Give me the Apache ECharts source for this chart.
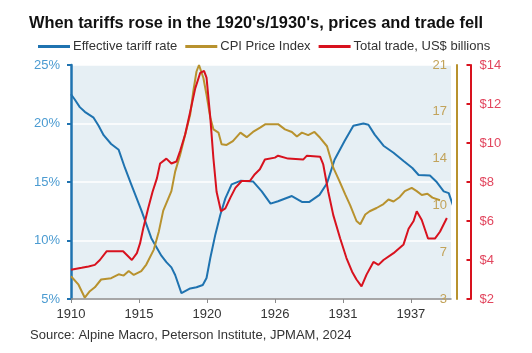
<!DOCTYPE html>
<html>
<head>
<meta charset="utf-8">
<script src="https://cdn.jsdelivr.net/npm/echarts@6/dist/echarts.min.js"></script>
<style>
  html, body { margin: 0; padding: 0; background: #fff; }
  #chart { width: 532px; height: 353px; }
</style>
</head>
<body>
<div id="chart"></div>
<script>
// values (year, value)
const baseYear = 1910
const xTickStep = 65 / 12 // ticks every 65 months
const xTickLabels = ['1910', '1915', '1920', '1926', '1931', '1937']
const cpiTickLabels = ['3', '7', '10', '14', '17', '21']

const tariffYears = [1910.0, 1910.3, 1910.7, 1911.1, 1911.8, 1912.2, 1912.6, 1913.2, 1913.8, 1914.3, 1914.8, 1915.6, 1916.4, 1916.8, 1917.2, 1917.6, 1918.0, 1918.3, 1918.8, 1919.5, 1920.0, 1920.5, 1920.8, 1921.1, 1921.5, 1921.9, 1922.3, 1922.8, 1923.5, 1924.5, 1925.2, 1925.9, 1926.5, 1927.6, 1928.4, 1929.0, 1929.8, 1930.4, 1931.0, 1931.8, 1932.5, 1933.3, 1933.7, 1934.2, 1934.9, 1935.7, 1936.5, 1937.2, 1937.7, 1938.6, 1939.1, 1939.7, 1940.1, 1940.5]
const tariffRate = [22.5, 22.05, 21.4, 21.0, 20.5, 19.8, 19.0, 18.25, 17.75, 16.2, 14.8, 12.6, 10.2, 9.45, 8.7, 8.15, 7.7, 7.05, 5.5, 5.9, 6.0, 6.2, 6.8, 8.5, 10.5, 12.2, 13.6, 14.8, 15.1, 15.05, 14.2, 13.15, 13.35, 13.8, 13.3, 13.3, 13.9, 14.9, 16.9, 18.5, 19.8, 20.0, 19.9, 19.05, 18.1, 17.5, 16.8, 16.2, 15.6, 15.55, 15.05, 14.2, 14.05, 12.8]

const cpiYears = [1910.0, 1910.6, 1911.1, 1911.5, 1911.9, 1912.4, 1913.2, 1913.8, 1914.2, 1914.6, 1915.0, 1915.6, 1916.0, 1916.6, 1917.0, 1917.35, 1918.0, 1918.3, 1918.7, 1919.1, 1919.5, 1919.75, 1920.0, 1920.2, 1920.55, 1920.8, 1921.1, 1921.35, 1921.75, 1922.0, 1922.4, 1922.9, 1923.5, 1924.0, 1924.5, 1925.1, 1925.5, 1926.5, 1927.05, 1927.6, 1928.0, 1928.4, 1928.9, 1929.4, 1929.85, 1930.4, 1930.9, 1931.4, 1931.85, 1932.25, 1932.75, 1933.05, 1933.45, 1933.8, 1934.35, 1934.9, 1935.3, 1935.7, 1936.2, 1936.6, 1937.15, 1937.55, 1937.95, 1938.4, 1938.8, 1939.4]
const cpiIndex = [4.75, 4.1, 3.1, 3.6, 3.9, 4.5, 4.6, 4.9, 4.8, 5.15, 4.85, 5.15, 5.65, 6.8, 8.2, 9.8, 11.3, 12.8, 14.1, 15.65, 17.2, 19.0, 20.5, 21.0, 20.0, 18.7, 16.95, 16.05, 15.8, 14.9, 14.85, 15.15, 15.8, 15.45, 15.85, 16.2, 16.45, 16.45, 16.05, 15.85, 15.5, 15.8, 15.6, 15.85, 15.4, 14.75, 13.1, 12.05, 11.05, 10.2, 9.0, 8.75, 9.5, 9.75, 10.0, 10.3, 10.65, 10.5, 10.85, 11.3, 11.55, 11.3, 11.0, 11.1, 10.8, 10.6]

const tradeYears = [1910.0, 1910.85, 1911.4, 1911.9, 1912.3, 1912.85, 1914.15, 1914.85, 1915.25, 1915.5, 1915.75, 1916.15, 1916.5, 1916.85, 1917.1, 1917.6, 1918.0, 1918.4, 1918.7, 1919.1, 1919.5, 1919.9, 1920.3, 1920.6, 1920.8, 1921.1, 1921.35, 1921.6, 1921.95, 1922.3, 1922.7, 1923.1, 1923.6, 1924.25, 1924.65, 1925.05, 1925.45, 1926.25, 1926.5, 1927.3, 1928.5, 1928.8, 1929.85, 1930.1, 1930.5, 1930.9, 1931.45, 1931.95, 1932.4, 1932.75, 1933.15, 1933.55, 1934.1, 1934.5, 1934.9, 1935.7, 1936.5, 1936.9, 1937.3, 1937.55, 1937.95, 1938.45, 1939.0, 1939.4, 1939.95]
const tradeBn = [3.5, 3.6, 3.67, 3.75, 4.0, 4.45, 4.45, 4.0, 4.35, 4.85, 5.6, 6.65, 7.5, 8.2, 8.95, 9.2, 8.95, 9.05, 9.6, 10.45, 11.6, 12.8, 13.6, 13.7, 13.35, 11.3, 9.2, 7.5, 6.5, 6.65, 7.2, 7.7, 8.05, 8.05, 8.4, 8.65, 9.15, 9.25, 9.35, 9.2, 9.15, 9.35, 9.3, 8.9, 7.5, 6.3, 5.1, 4.1, 3.4, 3.0, 2.65, 3.25, 3.9, 3.75, 4.0, 4.35, 4.8, 5.6, 6.0, 6.5, 6.05, 5.1, 5.1, 5.45, 6.15]

const font = "'Liberation Sans', Arial, sans-serif"
const pairs = (xs, ys) => xs.map((x, i) => [x - baseYear, ys[i]])
const xTickValues = xTickLabels.map((l, i) => i * xTickStep)
const cpiTickValues = cpiTickLabels.map((l, i) => 3 + i * 3.6)

const chart = echarts.init(document.getElementById('chart'), null, { renderer: 'canvas' })

chart.setOption({
  animation: false,
  textStyle: { fontFamily: font },
  title: {
    text: "When tariffs rose in the 1920's/1930's, prices and trade fell",
    left: 29,
    top: 15,
    padding: 0,
    textStyle: { fontSize: 16.4, fontWeight: 'bold', color: '#111', fontFamily: font }
  },
  legend: {
    left: 38,
    top: 40,
    padding: 0,
    itemWidth: 32,
    itemHeight: 3,
    itemGap: 8,
    icon: 'rect',
    textStyle: { fontSize: 13, color: '#333', fontFamily: font, padding: [0, 0, 0, -2] },
    data: ['Effective tariff rate', 'CPI Price Index', 'Total trade, US$ billions']
  },
  graphic: [{
    type: 'text',
    left: 30,
    top: 329,
    style: { text: 'Source: Alpine Macro, Peterson Institute, JPMAM, 2024', fontSize: 13, fill: '#333', fontFamily: font }
  }],
  grid: {
    left: 71,
    top: 65,
    width: 380,
    height: 234,
    show: true,
    backgroundColor: '#e6eff4',
    borderWidth: 0
  },
  xAxis: {
    type: 'value',
    min: 0,
    max: 30.28,
    splitLine: { show: false },
    axisLine: { lineStyle: { color: '#8a8a8a', width: 1.5 } },
    axisTick: { show: true, length: 4, lineStyle: { color: '#8a8a8a' }, customValues: xTickValues },
    axisLabel: {
      customValues: xTickValues,
      margin: 9,
      fontSize: 13,
      color: '#333',
      formatter: v => xTickLabels[Math.round(v / xTickStep)]
    }
  },
  yAxis: [{
    type: 'value',
    position: 'left',
    min: 5,
    max: 25,
    interval: 5,
    axisLine: { show: true, lineStyle: { color: '#1f73b0', width: 2.5 } },
    axisTick: { show: true, length: 4, lineStyle: { color: '#1f73b0', width: 2 } },
    axisLabel: { margin: 11, fontSize: 13, color: '#4b9bd1', formatter: '{value}%' },
    splitLine: { show: true, lineStyle: { color: '#ffffff', width: 1.5 } }
  }, {
    type: 'value',
    position: 'right',
    offset: 6,
    min: 3,
    max: 21,
    axisLine: { show: true, lineStyle: { color: '#b8922e', width: 2 } },
    axisTick: { show: false },
    splitLine: { show: false },
    axisLabel: {
      inside: true,
      margin: 10,
      fontSize: 13,
      color: '#c2a35a',
      customValues: cpiTickValues,
      formatter: v => cpiTickLabels[Math.round((v - 3) / 3.6)]
    }
  }, {
    type: 'value',
    position: 'right',
    offset: 19.5,
    min: 2,
    max: 14,
    interval: 2,
    axisLine: { show: true, lineStyle: { color: '#d8121e', width: 2 } },
    axisTick: { show: true, inside: true, length: 4, lineStyle: { color: '#d8121e', width: 2 } },
    splitLine: { show: false },
    axisLabel: { margin: 9, fontSize: 13, color: '#e2465e', formatter: '${value}' }
  }],
  series: [{
    name: 'Effective tariff rate',
    type: 'line',
    yAxisIndex: 0,
    showSymbol: false,
    symbol: 'none',
    clip: false,
    itemStyle: { color: '#1f73b0' },
    lineStyle: { color: '#1f73b0', width: 2 },
    data: pairs(tariffYears, tariffRate)
  }, {
    name: 'CPI Price Index',
    type: 'line',
    yAxisIndex: 1,
    showSymbol: false,
    symbol: 'none',
    itemStyle: { color: '#b8922e' },
    lineStyle: { color: '#b8922e', width: 2 },
    data: pairs(cpiYears, cpiIndex)
  }, {
    name: 'Total trade, US$ billions',
    type: 'line',
    yAxisIndex: 2,
    showSymbol: false,
    symbol: 'none',
    itemStyle: { color: '#d8121e' },
    lineStyle: { color: '#d8121e', width: 2 },
    data: pairs(tradeYears, tradeBn)
  }]
})
</script>
</body>
</html>
